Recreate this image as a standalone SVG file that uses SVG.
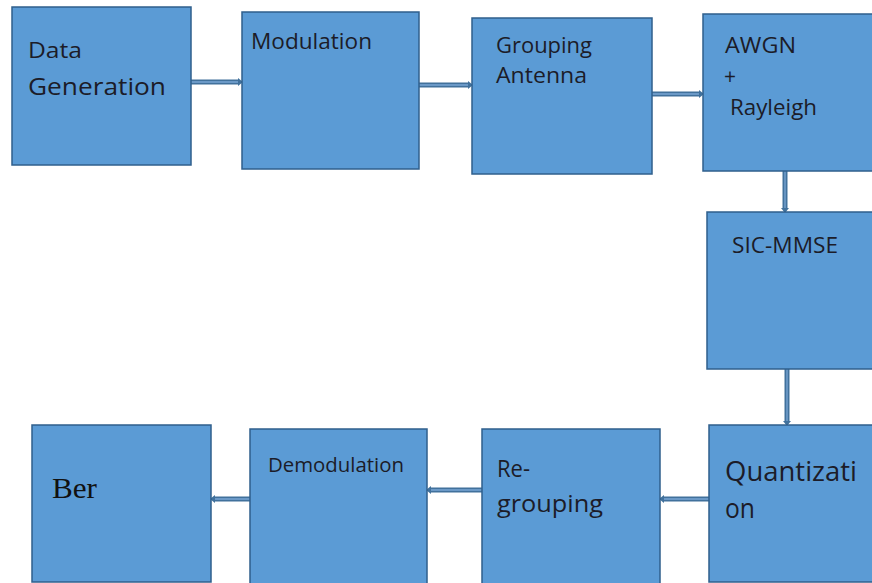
<svg xmlns="http://www.w3.org/2000/svg" width="872" height="583" viewBox="0 0 872 583">
<style>
.box{fill:#5b9bd5;stroke:#2f5f8c;stroke-width:1.5}
.t{font-family:"Open Sans","Liberation Sans",sans-serif;fill:#1c1c28}
.s{font-family:"Liberation Serif",serif;fill:#111}
.lo{fill:none;stroke:#41719c;stroke-width:5}
.li{fill:none;stroke:#7aa7d6;stroke-width:1.3}
.ah{fill:#41719c}
</style>
<rect width="872" height="583" fill="#fff"/>
<g id="connectors">
<path class="lo" d="M191 82H239"/><path class="li" d="M191 82H239"/><polygon class="ah" points="238,78 243,82 238,86"/>
<path class="lo" d="M419 85H469"/><path class="li" d="M419 85H469"/><polygon class="ah" points="468,81 473,85 468,89"/>
<path class="lo" d="M652 94H700"/><path class="li" d="M652 94H700"/><polygon class="ah" points="699,90 704,94 699,98"/>
<path class="lo" d="M785 171V209"/><path class="li" d="M785 171V209"/><polygon class="ah" points="781,208 785,213 789,208"/>
<path class="lo" d="M787 369V422"/><path class="li" d="M787 369V422"/><polygon class="ah" points="783,421 787,426 791,421"/>
<path class="lo" d="M709 499H663"/><path class="li" d="M709 499H663"/><polygon class="ah" points="664,495 659,499 664,503"/>
<path class="lo" d="M482 490H430"/><path class="li" d="M482 490H430"/><polygon class="ah" points="431,486 426,490 431,494"/>
<path class="lo" d="M250 499H214"/><path class="li" d="M250 499H214"/><polygon class="ah" points="215,495 210,499 215,503"/>
</g>
<g id="data-generation"><rect class="box" x="12" y="7" width="179" height="158"/>
<text class="t" font-size="22" x="28" y="58" textLength="54" lengthAdjust="spacingAndGlyphs">Data</text>
<text class="t" font-size="23" x="28" y="95" textLength="138" lengthAdjust="spacingAndGlyphs">Generation</text></g>
<g id="modulation"><rect class="box" x="242" y="12" width="177" height="157"/>
<text class="t" font-size="21" x="251" y="49" textLength="121" lengthAdjust="spacingAndGlyphs">Modulation</text></g>
<g id="grouping-antenna"><rect class="box" x="472" y="18" width="180" height="156"/>
<text class="t" font-size="21" x="496" y="53" textLength="96" lengthAdjust="spacingAndGlyphs">Grouping</text>
<text class="t" font-size="21" x="496" y="83" textLength="91" lengthAdjust="spacingAndGlyphs">Antenna</text></g>
<g id="awgn-rayleigh"><rect class="box" x="703" y="14" width="180" height="157"/>
<text class="t" font-size="21" x="725" y="53" textLength="71" lengthAdjust="spacingAndGlyphs">AWGN</text>
<text class="t" font-size="21" x="724" y="84">+</text>
<text class="t" font-size="21" x="730" y="115" textLength="87" lengthAdjust="spacingAndGlyphs">Rayleigh</text></g>
<g id="sic-mmse"><rect class="box" x="707" y="212" width="176" height="157"/>
<text class="t" font-size="21" x="732" y="253" textLength="106" lengthAdjust="spacingAndGlyphs">SIC-MMSE</text></g>
<g id="quantization"><rect class="box" x="709" y="425" width="174" height="157"/>
<text class="t" font-size="27" x="725" y="481" textLength="132" lengthAdjust="spacingAndGlyphs">Quantizati</text>
<text class="t" font-size="27" x="725" y="518" textLength="30" lengthAdjust="spacingAndGlyphs">on</text></g>
<g id="re-grouping"><rect class="box" x="482" y="429" width="178" height="160"/>
<text class="t" font-size="24" x="497" y="477" textLength="33" lengthAdjust="spacingAndGlyphs">Re-</text>
<text class="t" font-size="24" x="497" y="512" textLength="106" lengthAdjust="spacingAndGlyphs">grouping</text></g>
<g id="demodulation"><rect class="box" x="250" y="429" width="177" height="160"/>
<text class="t" font-size="20" x="268" y="472" textLength="136" lengthAdjust="spacingAndGlyphs">Demodulation</text></g>
<g id="ber"><rect class="box" x="32" y="425" width="179" height="157"/>
<text class="s" font-size="30" x="52" y="498" textLength="45" lengthAdjust="spacingAndGlyphs">Ber</text></g>
</svg>
